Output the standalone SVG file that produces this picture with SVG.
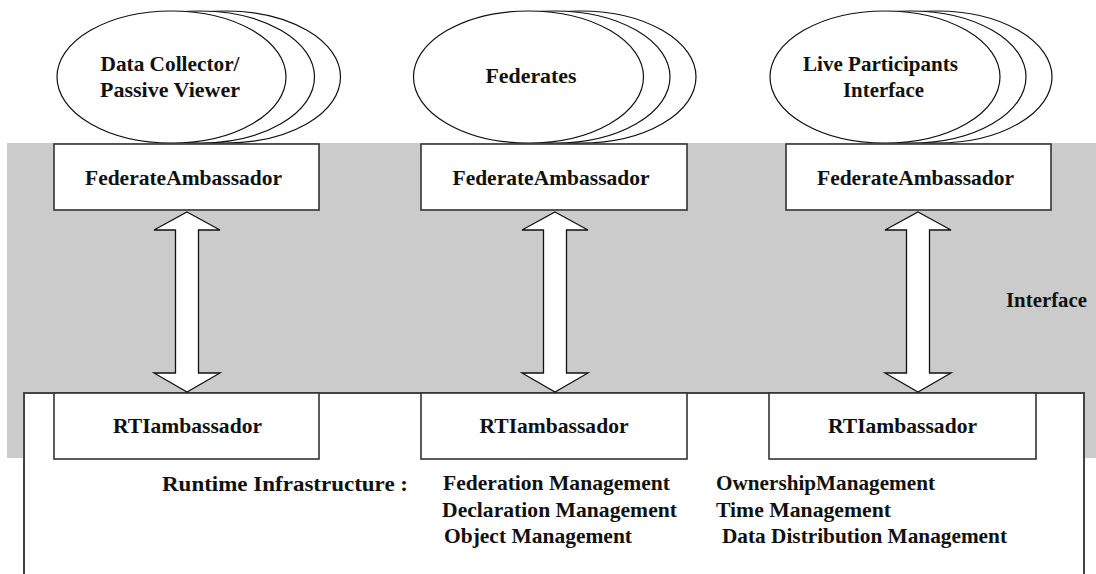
<svg xmlns="http://www.w3.org/2000/svg" width="1096" height="574" viewBox="0 0 1096 574">
  <style>
    text { font-family: "Liberation Serif", "DejaVu Serif", "Times New Roman", serif; font-weight: bold; fill: #111; }
    .lbl { font-size: 21.5px; text-anchor: middle; }
    .svc { font-size: 21px; }
    .oval { fill: #fff; stroke: #111; stroke-width: 1.2; }
    .box { fill: #fff; stroke: #333; stroke-width: 1.6; }
    .arrow { fill: #fff; stroke: #111; stroke-width: 1.3; stroke-linejoin: miter; }
  </style>
  <defs>
    <!-- double-headed block arrow, centred on x=0 -->
    <path id="dblArrow" class="arrow" d="M0,212 L33,230 L11.5,230 L11.5,373 L33,373 L0,392 L-33,373 L-11.5,373 L-11.5,230 L-33,230 Z"/>
  </defs>

  <rect width="1096" height="574" fill="#fff"/>

  <!-- interface band -->
  <rect id="interface-band" x="7" y="143" width="1089" height="315" fill="#cbcbcb"/>
  <text x="1006" y="307" class="svc" textLength="81" lengthAdjust="spacingAndGlyphs">Interface</text>

  <!-- runtime infrastructure panel -->
  <g id="rti">
    <rect x="24" y="393" width="1060" height="190" fill="#fff" stroke="#444" stroke-width="2"/>
    <text x="162" y="491" class="svc" textLength="246" lengthAdjust="spacingAndGlyphs">Runtime Infrastructure :</text>
    <text x="443" y="490" class="svc" textLength="227" lengthAdjust="spacingAndGlyphs">Federation Management</text>
    <text x="442" y="517" class="svc" textLength="235" lengthAdjust="spacingAndGlyphs">Declaration Management</text>
    <text x="444" y="543" class="svc" textLength="188" lengthAdjust="spacingAndGlyphs">Object Management</text>
    <text x="716" y="490" class="svc" textLength="219" lengthAdjust="spacingAndGlyphs">OwnershipManagement</text>
    <text x="716" y="517" class="svc" textLength="175" lengthAdjust="spacingAndGlyphs">Time Management</text>
    <text x="722" y="543" class="svc" textLength="285" lengthAdjust="spacingAndGlyphs">Data Distribution Management</text>
  </g>

  <!-- federate stacks -->
  <g id="data-collector">
    <ellipse class="oval" cx="226" cy="77" rx="114.5" ry="66"/>
    <ellipse class="oval" cx="200" cy="77" rx="114.5" ry="66"/>
    <ellipse class="oval" cx="171.5" cy="77" rx="114.5" ry="66"/>
    <text x="170" y="71" class="lbl" textLength="139" lengthAdjust="spacingAndGlyphs">Data Collector/</text>
    <text x="170" y="97" class="lbl" textLength="140" lengthAdjust="spacingAndGlyphs">Passive Viewer</text>
  </g>
  <g id="federates">
    <ellipse class="oval" cx="581" cy="77" rx="115" ry="66"/>
    <ellipse class="oval" cx="555" cy="77" rx="115" ry="66"/>
    <ellipse class="oval" cx="528.5" cy="77" rx="115" ry="66"/>
    <text x="531" y="83" class="lbl" textLength="91" lengthAdjust="spacingAndGlyphs">Federates</text>
  </g>
  <g id="live-participants">
    <ellipse class="oval" cx="937" cy="77" rx="115" ry="66"/>
    <ellipse class="oval" cx="911" cy="77" rx="115" ry="66"/>
    <ellipse class="oval" cx="885" cy="77" rx="115" ry="66"/>
    <text x="880.5" y="71" class="lbl" textLength="155" lengthAdjust="spacingAndGlyphs">Live Participants</text>
    <text x="883.5" y="97" class="lbl" textLength="81" lengthAdjust="spacingAndGlyphs">Interface</text>
  </g>

  <!-- federate ambassadors -->
  <g id="fed-amb-1">
    <rect class="box" x="54" y="144" width="265" height="66"/>
    <text x="183.5" y="185" class="lbl" textLength="197" lengthAdjust="spacingAndGlyphs">FederateAmbassador</text>
  </g>
  <g id="fed-amb-2">
    <rect class="box" x="421" y="144" width="266" height="66"/>
    <text x="551" y="185" class="lbl" textLength="197" lengthAdjust="spacingAndGlyphs">FederateAmbassador</text>
  </g>
  <g id="fed-amb-3">
    <rect class="box" x="786" y="144" width="265" height="66"/>
    <text x="915.5" y="185" class="lbl" textLength="197" lengthAdjust="spacingAndGlyphs">FederateAmbassador</text>
  </g>

  <!-- RTI ambassadors -->
  <g id="rti-amb-1">
    <rect class="box" x="54" y="393" width="265" height="66"/>
    <text x="187.5" y="433" class="lbl" textLength="149" lengthAdjust="spacingAndGlyphs">RTIambassador</text>
  </g>
  <g id="rti-amb-2">
    <rect class="box" x="421" y="393" width="266" height="66"/>
    <text x="554" y="433" class="lbl" textLength="149" lengthAdjust="spacingAndGlyphs">RTIambassador</text>
  </g>
  <g id="rti-amb-3">
    <rect class="box" x="769" y="393" width="267" height="66"/>
    <text x="902.5" y="433" class="lbl" textLength="149" lengthAdjust="spacingAndGlyphs">RTIambassador</text>
  </g>

  <!-- connectors -->
  <g id="connectors">
    <use href="#dblArrow" x="187"/>
    <use href="#dblArrow" x="555"/>
    <use href="#dblArrow" x="918"/>
  </g>
</svg>
